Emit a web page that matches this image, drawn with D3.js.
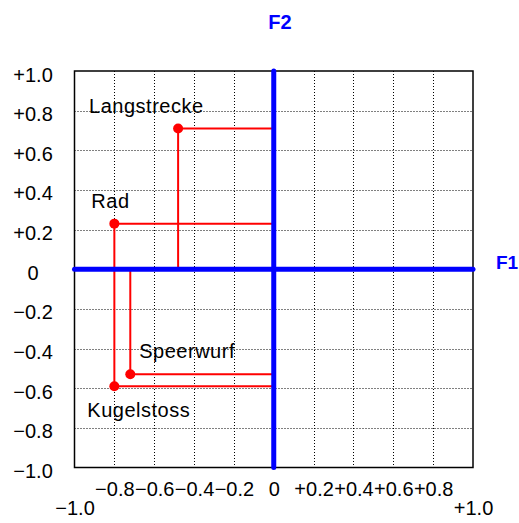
<!DOCTYPE html>
<html>
<head>
<meta charset="utf-8">
<script src="https://cdn.jsdelivr.net/npm/d3@7"></script>
<style>
  body { margin: 0; background: #fff; }
  svg text { font-family: "Liberation Sans", Arial, sans-serif; }
</style>
</head>
<body>
<div id="chart"></div>
<script>
// variables projected on the first two factors
const names = ["Langstrecke", "Rad", "Speerwurf", "Kugelstoss"];
const f1 = [-0.48, -0.80, -0.72, -0.80];
const f2 = [0.71, 0.23, -0.53, -0.59];

const innerTicks = [-0.8, -0.6, -0.4, -0.2, 0, 0.2, 0.4, 0.6, 0.8];
const endTicks = [-1, 1];
const gridTicks = [-0.8, -0.6, -0.4, -0.2, 0.2, 0.4, 0.6, 0.8];

// label placement relative to its point (text-anchor start)
const labelOffset = {
  "Langstrecke": [-89, -15],
  "Rad": [-23, -16],
  "Speerwurf": [9, -16],
  "Kugelstoss": [-27, 31]
};

const width = 519, height = 523;
const blue = "#0000ff", red = "#ff0000";

const x = d3.scaleLinear().domain([-1, 1]).range([74.5, 473]);
const y = d3.scaleLinear().domain([-1, 1]).range([467.5, 71]);

const fmt = v => v === 0 ? "0" : (v > 0 ? "+" : "\u2212") + Math.abs(v).toFixed(1);

const svg = d3.select("#chart").append("svg")
  .attr("width", width)
  .attr("height", height);

// dotted grid
svg.append("g").selectAll("line.gx")
  .data(gridTicks)
  .enter().append("line")
  .attr("x1", d => Math.round(x(d)) + 0.5).attr("x2", d => Math.round(x(d)) + 0.5)
  .attr("y1", y(1)).attr("y2", y(-1))
  .attr("stroke", "#000").attr("stroke-width", 1)
  .attr("stroke-dasharray", "1,2");

svg.append("g").selectAll("line.gy")
  .data(gridTicks)
  .enter().append("line")
  .attr("y1", d => Math.round(y(d)) + 0.5).attr("y2", d => Math.round(y(d)) + 0.5)
  .attr("x1", x(-1)).attr("x2", x(1))
  .attr("stroke", "#000").attr("stroke-width", 1)
  .attr("stroke-dasharray", "1,2");

// frame
svg.append("rect")
  .attr("x", x(-1)).attr("y", y(1))
  .attr("width", x(1) - x(-1)).attr("height", y(-1) - y(1))
  .attr("fill", "none").attr("stroke", "#000").attr("stroke-width", 1.5);

const pts = names.map((n, i) => ({ name: n, f1: f1[i], f2: f2[i] }));

// projection lines
svg.append("g").selectAll("line.h")
  .data(pts)
  .enter().append("line")
  .attr("x1", d => x(d.f1)).attr("x2", x(0))
  .attr("y1", d => y(d.f2)).attr("y2", d => y(d.f2))
  .attr("stroke", red).attr("stroke-width", 2);

svg.append("g").selectAll("line.v")
  .data(pts)
  .enter().append("line")
  .attr("x1", d => x(d.f1)).attr("x2", d => x(d.f1))
  .attr("y1", d => y(d.f2)).attr("y2", y(0))
  .attr("stroke", red).attr("stroke-width", 2);

// factor axes
svg.append("line")
  .attr("x1", x(-1)).attr("x2", x(1))
  .attr("y1", y(0)).attr("y2", y(0))
  .attr("stroke", blue).attr("stroke-width", 5).attr("stroke-linecap", "round");
svg.append("line")
  .attr("x1", x(0)).attr("x2", x(0))
  .attr("y1", y(1)).attr("y2", y(-1))
  .attr("stroke", blue).attr("stroke-width", 5).attr("stroke-linecap", "round");

// points and labels
svg.append("g").selectAll("circle")
  .data(pts)
  .enter().append("circle")
  .attr("cx", d => x(d.f1)).attr("cy", d => y(d.f2))
  .attr("r", 5).attr("fill", red);

svg.append("g").selectAll("text")
  .data(pts)
  .enter().append("text")
  .attr("x", d => x(d.f1) + labelOffset[d.name][0])
  .attr("y", d => y(d.f2) + labelOffset[d.name][1])
  .attr("font-size", 20)
  .attr("letter-spacing", "0.5px")
  .attr("fill", "#000")
  .text(d => d.name);

// tick labels
function styleAxis(g) {
  g.select(".domain").remove();
  g.selectAll(".tick line").remove();
  g.selectAll(".tick text")
    .attr("font-size", 20)
    .attr("font-family", "Liberation Sans, Arial, sans-serif")
    .attr("fill", "#000");
}

svg.append("g")
  .attr("transform", `translate(0, ${y(-1) + 14})`)
  .call(d3.axisBottom(x).tickValues(innerTicks).tickFormat(fmt).tickSize(0).tickPadding(0))
  .call(styleAxis);

svg.append("g")
  .attr("transform", `translate(0, ${y(-1) + 33})`)
  .call(d3.axisBottom(x).tickValues(endTicks).tickFormat(fmt).tickSize(0).tickPadding(0))
  .call(styleAxis);

svg.append("g")
  .attr("transform", "translate(33, 0)")
  .call(d3.axisLeft(y).tickValues(innerTicks.concat(endTicks)).tickFormat(fmt).tickSize(0).tickPadding(0))
  .call(styleAxis)
  .selectAll(".tick text")
  .attr("text-anchor", "middle")
  .attr("x", 0)
  .attr("dy", "10px");

// factor names
svg.append("text")
  .attr("x", 280).attr("y", 29)
  .attr("text-anchor", "middle")
  .attr("font-size", 20).attr("font-weight", "bold")
  .attr("fill", blue)
  .text("F2");

svg.append("text")
  .attr("x", 507).attr("y", y(0))
  .attr("text-anchor", "middle")
  .attr("font-size", 19).attr("font-weight", "bold")
  .attr("fill", blue)
  .text("F1");
</script>
</body>
</html>
